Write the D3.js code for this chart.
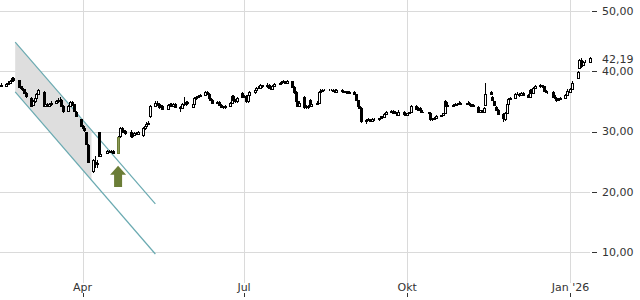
<!DOCTYPE html>
<html lang="de">
<head>
<meta charset="UTF-8">
<title>Chart</title>
<style>
  body { margin: 0; background: #fff; }
  text { font-family: "DejaVu Sans", sans-serif; font-size: 11px; fill: #333; }
</style>
</head>
<body>
<div id="chart"></div>
<script src="https://d3js.org/d3.v7.min.js"></script>
<script>
// daily candles, Fri 14 Feb 2025 .. Mon 12 Jan 2026 (weekdays), one week per line
var opens = [37.8,
  37.6,37.9,38.1,38.4,38.9, 38.5,37.5,37.2,37.0,36.4, 35.6,34.4,35.0,35.6,36.2, 36.6,34.3,34.6,34.3,34.5,
  34.8,35.0,35.4,35.3,34.3, 33.4,34.2,34.9,34.5,33.3, 32.0,30.9,30.5,29.9,27.8, 23.4,25.0,24.6,29.9,26.0,
  26.4,26.5,26.8,26.6,26.7, 26.4,29.2,30.6,30.3,30.1, 30.0,29.2,29.5,29.8,29.6, 29.4,30.5,30.9,31.3,32.5,
  34.3,34.8,34.5,34.1,34.2, 33.8,34.4,34.6,34.3,34.5, 34.1,33.9,34.6,34.5,34.9, 34.1,34.6,35.5,35.7,35.9,
  36.1,36.6,36.3,35.6,35.3, 34.8,34.9,34.4,34.1,34.0, 34.2,34.7,35.9,35.2,35.0, 36.4,35.7,35.9,35.0,36.1,
  36.5,36.9,37.2,37.3,37.7, 37.5,37.8,37.3,37.1,37.6, 37.9,38.0,38.2,38.3,38.1, 38.3,37.4,36.5,35.0,34.3,
  35.7,34.0,34.2,35.2,34.3, 34.6,34.8,36.6,36.8,36.9, 36.9,36.9,36.9,36.9,36.6, 36.9,36.7,36.5,36.7,36.4,
  36.6,36.2,35.2,34.3,33.9, 31.7,31.9,32.0,31.8,32.1, 32.0,32.2,32.5,32.4,32.9, 33.3,33.4,33.1,33.2,32.8,
  33.3,32.9,32.7,33.0,33.2, 34.2,33.8,33.9,33.5,33.2, 33.2,33.0,32.0,32.0,32.3, 32.5,32.7,33.1,34.9,34.3,
  34.2,34.4,34.5,34.6,34.8, 34.6,34.6,34.8,34.5,34.3, 34.1,33.3,33.5,33.2,34.4, 36.6,35.8,35.0,34.0,33.6,
  32.9,32.0,33.1,34.6,35.4, 35.6,36.2,36.3,36.0,36.4, 36.1,35.7,36.9,36.4,37.2, 37.5,37.7,37.5,36.7,36.6,
  36.6,35.8,35.5,35.3,35.4, 35.6,36.0,36.8,36.6,37.0, 38.9,40.5,41.9,41.0,41.5,
  41.6];
var highs = [38.0,
  38.0,38.3,38.6,39.1,39.0, 38.6,37.6,37.4,37.1,36.5, 35.8,35.2,35.8,36.4,37.1, 36.8,34.8,34.8,34.7,35.0,
  35.2,35.5,35.7,35.4,34.4, 34.4,35.1,35.1,34.6,33.4, 32.1,31.1,30.7,30.0,27.9, 25.4,26.0,25.2,30.0,26.6,
  26.7,27.0,27.0,26.9,26.9, 29.2,30.7,30.8,30.5,30.3, 30.2,29.7,30.0,30.0,30.1, 30.7,31.1,31.5,31.8,34.4,
  35.0,35.0,34.7,34.4,34.4, 34.6,34.8,34.8,34.7,34.7, 34.3,34.8,35.7,35.1,35.1, 34.8,35.7,35.9,36.1,36.3,
  36.8,36.8,36.4,35.8,35.4, 35.1,35.0,34.6,34.3,34.4, 34.9,36.1,36.0,35.4,35.8, 36.6,36.1,36.0,36.3,36.7,
  37.1,37.4,37.5,37.9,37.8, 38.0,37.9,37.5,37.8,38.1, 38.2,38.4,38.5,38.4,38.6, 38.4,37.6,36.7,35.2,35.0,
  35.9,34.4,34.4,35.4,34.8, 35.0,36.7,37.0,37.0,37.0, 37.0,37.0,37.0,37.1,37.0, 37.0,36.8,36.8,36.8,36.7,
  36.7,36.3,35.3,34.5,34.0, 32.1,32.2,32.1,32.2,32.2, 32.3,32.6,32.6,33.0,33.4, 33.6,33.5,33.4,33.3,33.5,
  33.4,33.1,33.1,33.3,34.4, 34.4,34.0,34.0,33.6,33.3, 33.3,33.1,32.2,32.4,32.7, 32.8,33.1,35.2,35.0,34.4,
  34.6,34.7,34.8,35.0,34.9, 34.8,35.0,34.9,34.6,34.6, 34.2,33.6,33.6,34.0,38.0, 36.8,35.9,35.1,34.2,33.8,
  33.0,33.3,34.8,35.6,35.8, 36.4,36.5,36.4,36.5,36.5, 36.2,37.0,37.0,37.4,37.7, 37.9,37.8,37.6,36.9,36.8,
  36.7,36.0,35.7,35.6,35.8, 36.2,37.0,36.9,37.2,38.3, 40.1,42.1,42.2,41.7,41.8,
  42.3];
var lows = [37.4,
  37.4,37.7,38.0,38.3,38.3, 37.2,37.0,36.8,36.2,35.6, 34.0,34.2,34.8,35.4,36.0, 34.0,34.1,34.1,34.1,34.3,
  34.6,34.8,35.1,34.1,33.1, 33.2,34.0,34.3,33.2,32.4, 30.7,30.3,30.0,27.7,24.8, 23.1,24.0,24.0,25.7,25.8,
  26.2,26.3,26.4,26.4,26.3, 26.3,29.0,30.0,29.8,29.5, 29.0,29.0,29.3,29.4,29.4, 29.1,30.3,30.7,31.1,32.3,
  34.1,34.3,33.8,33.9,33.6, 33.6,34.2,34.1,34.1,33.9, 33.2,33.7,34.3,34.3,34.5, 33.9,34.4,35.3,35.5,35.7,
  35.9,36.1,35.4,35.1,34.6, 34.6,34.2,33.9,33.8,33.8, 34.0,34.5,35.0,34.8,34.8, 35.5,35.5,34.8,34.8,35.9,
  36.3,36.7,37.0,37.1,37.3, 37.3,37.1,36.9,36.9,37.4, 37.7,37.8,38.0,37.9,37.9, 37.2,36.3,34.8,34.0,34.1,
  33.8,33.8,33.8,34.1,34.1, 34.4,34.7,36.5,36.7,36.8, 36.8,36.8,36.7,36.5,36.5, 36.6,36.4,36.4,36.3,36.3,
  36.0,35.0,34.1,33.7,31.4, 31.2,31.7,31.6,31.7,31.8, 31.8,32.0,32.2,32.3,32.8, 33.1,32.9,33.0,32.6,32.7,
  32.7,32.5,32.5,32.9,33.1, 33.7,33.5,33.4,33.1,33.0, 32.9,31.8,31.8,31.9,32.2, 32.4,32.6,33.0,34.2,34.0,
  34.0,34.2,34.3,34.4,34.4, 34.4,34.4,34.3,34.1,34.1, 33.1,33.1,33.0,33.0,34.2, 36.0,35.1,34.3,33.4,32.7,
  31.6,31.8,33.0,34.4,35.2, 35.4,36.0,35.8,35.9,35.9, 35.5,35.6,36.3,36.3,37.1, 37.3,37.3,36.6,36.4,36.3,
  35.6,35.3,34.9,35.1,35.3, 35.4,35.9,36.4,36.5,36.9, 38.7,40.3,40.6,40.8,41.3,
  41.5];
var closes = [37.6,
  37.9,38.1,38.4,38.9,38.5, 37.4,37.2,37.0,36.4,35.9, 34.3,35.0,35.6,36.2,36.9, 34.2,34.6,34.3,34.5,34.8,
  35.0,35.3,35.4,34.3,33.4, 34.2,34.9,34.5,33.4,32.6, 30.9,30.5,30.2,27.9,25.0, 25.2,24.8,24.7,25.9,26.3,
  26.5,26.8,26.6,26.7,26.5, 29.1,30.6,30.2,30.0,29.8, 29.2,29.5,29.8,29.6,29.9, 30.5,30.9,31.3,31.4,34.2,
  34.8,34.5,34.0,34.2,33.8, 34.4,34.6,34.3,34.5,34.1, 33.9,34.6,34.5,34.9,34.7, 34.6,35.5,35.7,35.9,36.1,
  36.6,36.3,35.6,35.3,34.8, 34.9,34.4,34.1,34.0,34.2, 34.7,35.9,35.2,35.0,35.6, 35.7,35.9,35.0,36.1,36.5,
  36.9,37.2,37.3,37.7,37.5, 37.8,37.3,37.1,37.6,37.9, 38.0,38.2,38.3,38.1,38.3, 37.4,36.5,35.0,34.3,34.8,
  34.0,34.2,34.0,34.3,34.6, 34.8,36.6,36.8,36.9,36.9, 36.9,36.9,36.8,36.6,36.9, 36.7,36.5,36.7,36.4,36.6,
  36.2,35.2,34.3,33.9,31.7, 31.9,32.0,31.8,32.1,32.0, 32.2,32.5,32.4,32.9,33.3, 33.4,33.1,33.2,32.8,33.3,
  32.9,32.7,33.0,33.2,34.2, 33.8,33.6,33.5,33.2,33.2, 33.0,32.0,32.0,32.3,32.5, 32.7,33.0,35.1,34.3,34.2,
  34.4,34.5,34.6,34.8,34.6, 34.6,34.8,34.5,34.3,34.4, 33.3,33.5,33.2,33.9,36.3, 36.2,35.2,34.4,33.6,32.9,
  32.2,33.1,34.6,35.4,35.6, 36.2,36.3,36.0,36.4,36.1, 35.7,36.9,36.4,37.2,37.5, 37.7,37.5,36.7,36.6,36.5,
  35.8,35.5,35.3,35.4,35.6, 36.0,36.8,36.6,37.0,38.1, 39.9,41.9,40.8,41.5,41.6,
  42.19];

var lastPrice = 42.19;
var signalDate = "2025-04-21";        // highlighted breakout candle + arrow
var arrowTip = 24.3, arrowBase = 20.8;

var channelDates = ["2025-02-22", "2025-05-12"];
var channelUpper = [44.85, 17.97];
var channelLower = [36.56, 9.67];
var channelFillEnd = "2025-04-06";

var yTicks = [10, 20, 30, 40, 50];
var monthTicks = ["2025-04-01", "2025-07-01", "2025-10-01", "2026-01-01"];
var monthLabels = ["Apr", "Jul", "Okt", "Jan '26"];

var width = 640, height = 300;
var parse = d3.utcParse("%Y-%m-%d");

// weekdays between first and last session
var dates = d3.utcDay.range(parse("2025-02-14"), parse("2026-01-13"))
  .filter(function (d) { return d.getUTCDay() > 0 && d.getUTCDay() < 6; });
var candles = dates.slice(0, closes.length).map(function (d, i) {
  return { date: d, o: opens[i], h: highs[i], l: lows[i], c: closes[i] };
});

var x = d3.scaleUtc().domain([parse("2025-02-14"), parse("2026-01-12")]).range([1, 590]);
var y = d3.scaleLinear().domain([10, 50]).range([252, 11]);

var de = d3.formatLocale({ decimal: ",", thousands: ".", grouping: [3], currency: ["", " €"] });
var fmt = de.format(".2f");

var svg = d3.select("#chart").append("svg")
  .attr("width", width).attr("height", height);

// grid
svg.append("g").selectAll("line").data(yTicks).join("line")
  .attr("x1", 0).attr("x2", 590)
  .attr("y1", function (d) { return Math.round(y(d)) + 0.5; })
  .attr("y2", function (d) { return Math.round(y(d)) + 0.5; })
  .attr("stroke", "#dadada");
svg.append("g").selectAll("line").data(monthTicks).join("line")
  .attr("x1", function (d) { return Math.round(x(parse(d))) + 0.5; })
  .attr("x2", function (d) { return Math.round(x(parse(d))) + 0.5; })
  .attr("y1", 0).attr("y2", 283)
  .attr("stroke", "#dadada");

// trend channel
var c0 = parse(channelDates[0]), c1 = parse(channelDates[1]), cf = parse(channelFillEnd);
var t = (cf - c0) / (c1 - c0);
var upAtFill = channelUpper[0] + t * (channelUpper[1] - channelUpper[0]);
var loAtFill = channelLower[0] + t * (channelLower[1] - channelLower[0]);
svg.append("path")
  .attr("d", d3.line()([
    [x(c0), y(channelUpper[0])], [x(cf), y(upAtFill)],
    [x(cf), y(loAtFill)], [x(c0), y(channelLower[0])]
  ]) + "Z")
  .attr("fill", "#dedede");
[channelUpper, channelLower].forEach(function (s) {
  svg.append("line")
    .attr("x1", x(c0)).attr("y1", y(s[0]))
    .attr("x2", x(c1)).attr("y2", y(s[1]))
    .attr("stroke", "#6aaab1").attr("stroke-width", 1.2);
});

// candles
var gc = svg.append("g");
function cx(d) { return Math.round(x(d.date)); }
gc.selectAll("line").data(candles).join("line")
  .attr("x1", function (d) { return cx(d) + 0.5; })
  .attr("x2", function (d) { return cx(d) + 0.5; })
  .attr("y1", function (d) { return Math.round(y(d.h)); })
  .attr("y2", function (d) { return Math.round(y(d.l)); })
  .attr("stroke", "#000");
var sig = parse(signalDate).getTime();
gc.selectAll("rect").data(candles).join("rect")
  .attr("x", function (d) { return cx(d) - 0.5; })
  .attr("width", 2)
  .attr("y", function (d) { return Math.round(y(Math.max(d.o, d.c))) + 0.5; })
  .attr("height", function (d) {
    return Math.max(0, Math.round(y(Math.min(d.o, d.c))) - Math.round(y(Math.max(d.o, d.c))));
  })
  .attr("fill", function (d) {
    if (d.date.getTime() === sig) return "#8d9c58";
    return d.c >= d.o ? "#fff" : "#000";
  })
  .attr("stroke", function (d) { return d.date.getTime() === sig ? "#6b7b35" : "#000"; });

// signal arrow
var ax = x(parse(signalDate)), ay0 = y(arrowTip), ay1 = y(arrowBase);
svg.append("path")
  .attr("d", d3.line()([
    [ax, ay0], [ax + 8, ay0 + 9], [ax + 4, ay0 + 9], [ax + 4, ay1],
    [ax - 4, ay1], [ax - 4, ay0 + 9], [ax - 8, ay0 + 9]
  ]) + "Z")
  .attr("fill", "#6b7d37");

// right axis
var gy = svg.append("g");
gy.selectAll("line").data(yTicks).join("line")
  .attr("x1", 592).attr("x2", 597)
  .attr("y1", function (d) { return Math.round(y(d)) + 0.5; })
  .attr("y2", function (d) { return Math.round(y(d)) + 0.5; })
  .attr("stroke", "#333");
gy.selectAll("text").data(yTicks).join("text")
  .attr("x", 602).attr("y", function (d) { return y(d); })
  .attr("dy", "0.35em")
  .text(function (d) { return fmt(d); });
svg.append("text")
  .attr("x", 602).attr("y", y(lastPrice) + 1)
  .attr("dy", "0.35em")
  .text(fmt(lastPrice));

// bottom axis
var gx = svg.append("g");
gx.selectAll("text").data(monthTicks).join("text")
  .attr("x", function (d) { return x(parse(d)); })
  .attr("y", 291)
  .attr("text-anchor", "middle")
  .text(function (d, i) { return monthLabels[i]; });
gx.selectAll("line").data(monthTicks).join("line")
  .attr("x1", function (d) { return Math.round(x(parse(d))) + 0.5; })
  .attr("x2", function (d) { return Math.round(x(parse(d))) + 0.5; })
  .attr("y1", 293).attr("y2", 297)
  .attr("stroke", "#333");
</script>
</body>
</html>
